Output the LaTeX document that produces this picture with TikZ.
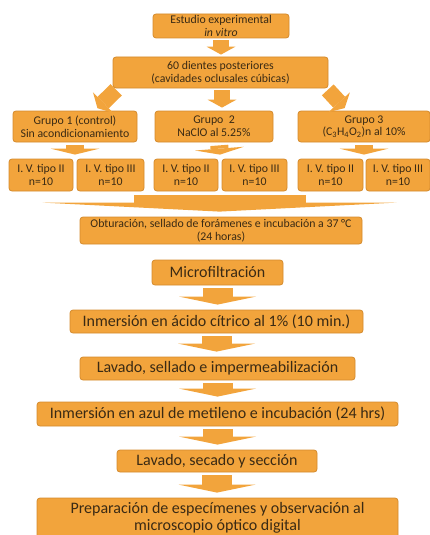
\documentclass[tikz,border=0pt]{standalone}
\usepackage{fontspec}
\setmainfont{Carlito}
\usetikzlibrary{arrows.meta,calc}
\definecolor{naranja}{HTML}{F2A43C}
\definecolor{borde}{HTML}{D48A2C}
\definecolor{tinta}{HTML}{3A2A14}
\begin{document}
\begin{tikzpicture}[x=1pt,y=-1pt]
	\tikzstyle{caja}=[draw=borde,fill=naranja,rounded corners=3pt,text=tinta,align=center,inner sep=1pt,line width=0.8pt]
	\tikzstyle{chica}=[caja,font=\fontsize{11.8}{12.8}\selectfont]
	\tikzstyle{grande}=[caja,font=\fontsize{16}{18}\selectfont]
	\tikzstyle{flecha}=[draw=naranja,line width=16pt,-{Triangle[length=8pt,width=29pt,line width=0pt]},shorten <=2pt,shorten >=2pt]
	\tikzstyle{union}=[draw=naranja,line width=18pt,-{Triangle[length=6pt,width=49pt,line width=0pt]},shorten <=3pt,shorten >=4pt]
	\tikzstyle{paso}=[draw=naranja,line width=30pt,-{Triangle[length=8pt,width=77pt,line width=0pt]},shorten <=3pt,shorten >=5pt]
	\useasboundingbox (0,0) rectangle (430,535);
	% estudio y muestra
	\node[chica,minimum width=136pt,minimum height=24pt] (estudio) at (221,26) {Estudio experimental\\\textit{in vitro}};
	\node[chica,minimum width=215pt,minimum height=31pt] (dientes) at (220.5,72.5) {60 dientes posteriores\\(cavidades oclusales cúbicas)};
	% grupos
	\node[chica,minimum width=124pt,minimum height=31pt] (grupoA) at (75,126.5) {Grupo 1 (control)\\Sin acondicionamiento};
	\node[chica,minimum width=118pt,minimum height=31pt] (grupoB) at (214,126.5) {Grupo\ \ 2\\NaClO al 5.25\%};
	\node[chica,minimum width=132pt,minimum height=31pt] (grupoC) at (364,126.5) {Grupo 3\\(C\textsubscript{3}H\textsubscript{4}O\textsubscript{2})n al 10\%};
	% ionomeros
	\node[chica,minimum width=64pt,minimum height=32pt] (ivA1) at (41,175) {I. V. tipo II\\n=10};
	\node[chica,minimum width=67pt,minimum height=32pt] (ivA2) at (110.5,175) {I. V. tipo III\\n=10};
	\node[chica,minimum width=64pt,minimum height=32pt] (ivB1) at (186,175) {I. V. tipo II\\n=10};
	\node[chica,minimum width=65pt,minimum height=32pt] (ivB2) at (254.5,175) {I. V. tipo III\\n=10};
	\node[chica,minimum width=65pt,minimum height=32pt] (ivC1) at (330.5,175) {I. V. tipo II\\n=10};
	\node[chica,minimum width=64pt,minimum height=32pt] (ivC2) at (398,175) {I. V. tipo III\\n=10};
	\node[chica,minimum width=282pt,minimum height=27pt] (obtur) at (221,230.5) {Obturación, sellado de forámenes e incubación a 37 °C\\(24 horas)};
	% procedimiento
	\node[grande,minimum width=131pt,minimum height=25pt] (micro) at (217.5,272.5) {Microfiltración};
	\node[grande,minimum width=293pt,minimum height=23pt] (acido) at (216.5,321.5) {Inmersión en ácido cítrico al 1\% (10 min.)};
	\node[grande,minimum width=275pt,minimum height=23pt] (lavadoA) at (217.5,368.5) {Lavado, sellado e impermeabilización};
	\node[grande,minimum width=361pt,minimum height=24pt] (azul) at (217.5,414) {Inmersión en azul de metileno e incubación (24 hrs)};
	\node[grande,minimum width=200pt,minimum height=22pt] (lavadoB) at (217,461) {Lavado, secado y sección};
	\node[grande,minimum width=361pt,minimum height=40pt,font=\fontsize{16}{16.5}\selectfont] (prep) at (217.5,518) {Preparación de especímenes y observación al\\microscopio óptico digital};
	\coordinate (junta) at ($(ivA1.south)!0.5!(ivC2.south)$);
	% flechas
	\draw[flecha] (estudio) -- (estudio |- dientes.north);
	\draw[flecha] ($(dientes.south west)+(5,0)$) -- ($(grupoA.north)+(21,-1)$);
	\draw[flecha] (dientes.south -| grupoB.north) ++(8,0) -- ($(grupoB.north)+(8,-1)$);
	\draw[flecha] ($(dientes.south east)+(-2,0)$) -- ($(grupoC.north)+(-18,-1)$);
	\draw[union] (grupoA) -- (grupoA |- ivA1.north);
	\draw[union] (grupoB.south) ++(5,0) -- ($(ivB1.north)!0.5!(ivB2.north)$);
	\draw[union] (grupoC) -- (grupoC |- ivC1.north);
	\draw[draw=naranja,line width=172pt,-{Triangle[length=9pt,width=354pt,line width=0pt]},shorten <=4pt,shorten >=5pt] (junta) -- (junta |- obtur.north);
	\draw[paso] (micro) -- (micro |- acido.north);
	\draw[paso] (acido) -- (acido |- lavadoA.north);
	\draw[paso] (lavadoA) -- (lavadoA |- azul.north);
	\draw[paso] (azul) -- (azul |- lavadoB.north);
	\draw[paso] (lavadoB) -- (lavadoB |- prep.north);
\end{tikzpicture}
\end{document}
